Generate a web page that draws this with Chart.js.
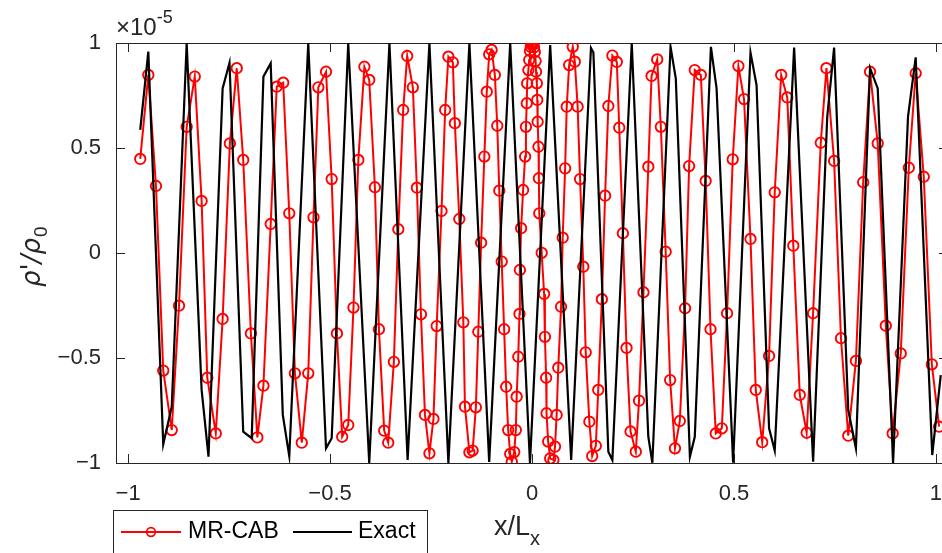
<!DOCTYPE html>
<html>
<head>
<meta charset="utf-8">
<script src="https://cdn.jsdelivr.net/npm/chart.js@4.4.0/dist/chart.umd.min.js"></script>
<style>
  html, body { margin: 0; padding: 0; overflow: hidden; background: #fff; }
  #wrap { width: 942px; height: 553px; overflow: hidden; position: relative; }
  #c { position: absolute; left: 0; top: 0; width: 960px; height: 553px; }
</style>
</head>
<body>
<div id="wrap"><canvas id="c" width="960" height="553"></canvas></div>
<script>
// --- data (y in units of 1e-5) ---
const redX = [
  -0.970,-0.950,-0.931,-0.913,-0.892,-0.874,-0.855,-0.835,-0.818,-0.804,
  -0.783,-0.766,-0.748,-0.731,-0.715,-0.696,-0.680,-0.665,-0.647,-0.632,
  -0.616,-0.601,-0.587,-0.570,-0.554,-0.541,-0.529,-0.510,-0.496,-0.483,
  -0.470,-0.455,-0.442,-0.430,-0.415,-0.403,-0.389,-0.379,-0.366,-0.356,
  -0.342,-0.331,-0.319,-0.309,-0.295,-0.285,-0.275,-0.265,-0.254,-0.244,
  -0.236,-0.224,-0.215,-0.207,-0.196,-0.191,-0.180,-0.170,-0.166,-0.155,
  -0.147,-0.139,-0.133,-0.126,-0.118,-0.112,-0.106,-0.100,-0.092,-0.086,
  -0.081,-0.075,-0.069,-0.064,-0.059,-0.054,-0.050,-0.044,-0.040,-0.038,
  -0.034,-0.031,-0.030,-0.027,-0.022,-0.017,-0.015,-0.013,-0.012,-0.009,
  -0.007,-0.005,-0.003,-0.001,0.001,0.003,0.005,0.007,0.009,0.010,
  0.012,0.013,0.014,0.016,0.017,0.018,0.024,0.030,0.032,0.035,
  0.036,0.040,0.045,0.053,0.057,0.061,0.065,0.072,0.076,0.082,
  0.086,0.092,0.101,0.106,0.113,0.119,0.127,0.133,0.142,0.149,
  0.158,0.164,0.173,0.181,0.189,0.199,0.210,0.216,0.225,0.234,
  0.244,0.257,0.265,0.276,0.288,0.296,0.310,0.319,0.331,0.342,
  0.354,0.366,0.379,0.389,0.403,0.418,0.430,0.442,0.455,0.470,
  0.483,0.497,0.511,0.525,0.541,0.554,0.570,0.587,0.601,0.617,
  0.632,0.647,0.663,0.680,0.696,0.715,0.729,0.748,0.765,0.783,
  0.802,0.820,0.837,0.856,0.876,0.893,0.913,0.933,0.950,0.970,
  0.990,1.008
];
const redY = [
  0.448,0.848,0.319,-0.560,-0.843,-0.251,0.601,0.840,0.248,-0.594,
  -0.859,-0.314,0.522,0.880,0.443,-0.383,-0.878,-0.632,0.138,0.792,
  0.811,0.189,-0.573,-0.903,-0.573,0.170,0.789,0.863,0.352,-0.383,
  -0.875,-0.819,-0.260,0.443,0.887,0.824,0.313,-0.363,-0.846,-0.903,
  -0.518,0.113,0.681,0.938,0.789,0.311,-0.292,-0.771,-0.954,-0.790,
  -0.348,0.200,0.681,0.935,0.908,0.618,0.162,-0.330,-0.732,-0.949,
  -0.941,-0.735,-0.375,0.049,0.459,0.768,0.946,0.967,0.848,0.606,
  0.297,-0.041,-0.363,-0.637,-0.843,-0.957,-0.994,-0.948,-0.843,-0.684,
  -0.494,-0.290,-0.081,0.118,0.300,0.459,0.601,0.713,0.808,0.871,
  0.919,0.962,0.981,0.993,0.998,0.993,0.979,0.957,0.914,0.863,
  0.808,0.729,0.625,0.506,0.356,0.189,0.001,-0.195,-0.399,-0.594,
  -0.763,-0.898,-0.978,-0.986,-0.922,-0.771,-0.546,-0.256,0.073,0.403,
  0.697,0.895,0.982,0.911,0.697,0.352,-0.065,-0.473,-0.803,-0.967,
  -0.918,-0.652,-0.220,0.273,0.700,0.940,0.910,0.597,0.094,-0.452,
  -0.850,-0.946,-0.703,-0.187,0.411,0.843,0.922,0.601,0.006,-0.605,
  -0.930,-0.800,-0.263,0.414,0.871,0.848,0.343,-0.363,-0.859,-0.835,
  -0.287,0.446,0.890,0.733,0.067,-0.652,-0.901,-0.490,0.289,0.848,
  0.741,0.035,-0.676,-0.856,-0.287,0.525,0.880,0.438,-0.406,-0.870,
  -0.514,0.337,0.863,0.522,-0.346,-0.859,-0.478,0.406,0.856,0.363,
  -0.530,-0.827
];
const exactX = [
  -0.970,-0.950,-0.913,-0.892,-0.855,-0.818,-0.801,-0.766,-0.749,-0.715,
  -0.694,-0.665,-0.647,-0.617,-0.601,-0.554,-0.510,-0.496,-0.455,-0.403,
  -0.353,-0.308,-0.254,-0.207,-0.155,-0.106,-0.054,-0.005,0.045,0.097,
  0.146,0.152,0.189,0.199,0.247,0.288,0.298,0.343,0.356,0.391,
  0.403,0.443,0.457,0.498,0.541,0.556,0.587,0.601,0.649,0.696,
  0.731,0.748,0.783,0.802,0.837,0.856,0.894,0.931,0.950,0.991,
  1.012
];
const exactY = [
  0.586,0.959,-0.911,-0.732,0.999,-0.652,-0.970,0.784,0.906,-0.851,
  -0.882,0.840,0.903,-0.771,-0.967,0.999,-0.930,-0.882,0.999,-1.000,
  0.999,-0.986,0.999,-1.000,0.999,-0.995,0.999,-1.000,0.990,-0.986,
  0.976,0.955,-0.946,-0.986,0.999,-0.875,-0.999,0.982,0.832,-0.970,
  -0.875,0.982,0.784,-0.999,0.954,0.800,-0.835,-0.941,0.978,-0.994,
  0.649,0.978,-0.748,-0.930,0.880,0.784,-1.000,0.649,0.932,-0.962,
  -0.581
];
const xTicks = [-1, -0.5, 0, 0.5, 1];
const yTicks = [-1, -0.5, 0, 0.5, 1];
const seriesNames = ['MR-CAB', 'Exact'];

const FONT = '"Liberation Sans", Arial, Helvetica, sans-serif';
const AXIS = '#262626';

// box, inward ticks, axis titles, exponent and legend (MATLAB look)
const matlabFrame = {
  id: 'matlabFrame',
  beforeDatasetsDraw(chart) {
    const { ctx, chartArea: a, scales: { x, y } } = chart;
    ctx.save();
    ctx.strokeStyle = AXIS;
    ctx.lineWidth = 1;
    ctx.strokeRect(Math.round(a.left) + 0.5, Math.round(a.top) + 0.5,
                   Math.round(a.right - a.left), Math.round(a.bottom - a.top));
    ctx.beginPath();
    xTicks.forEach(v => {
      const px = Math.round(x.getPixelForValue(v)) + 0.5;
      ctx.moveTo(px, a.bottom); ctx.lineTo(px, a.bottom - 9);
      ctx.moveTo(px, a.top); ctx.lineTo(px, a.top + 9);
    });
    yTicks.forEach(v => {
      const py = Math.round(y.getPixelForValue(v)) + 0.5;
      ctx.moveTo(a.left, py); ctx.lineTo(a.left + 9, py);
      ctx.moveTo(a.right, py); ctx.lineTo(a.right - 9, py);
    });
    ctx.stroke();
    ctx.restore();
  },
  afterDraw(chart) {
    const { ctx } = chart;
    ctx.save();
    ctx.fillStyle = AXIS;
    ctx.textBaseline = 'alphabetic';
    ctx.textAlign = 'left';

    // x10^-5
    ctx.font = `24px ${FONT}`;
    ctx.fillText('\u00d710', 116, 35);
    let w = ctx.measureText('\u00d710').width;
    ctx.font = `18px ${FONT}`;
    ctx.fillText('-5', 116 + w, 23);

    // x label
    ctx.font = `27px ${FONT}`;
    ctx.fillText('x/L', 494, 535);
    w = ctx.measureText('x/L').width;
    ctx.font = `20px ${FONT}`;
    ctx.fillText('x', 494 + w, 545);

    // y label
    ctx.save();
    ctx.translate(40, 287);
    ctx.rotate(-Math.PI / 2);
    ctx.font = `italic 26px "DejaVu Sans", ${FONT}`;
    ctx.fillText("\u03c1'/\u03c1", 0, 0);
    w = ctx.measureText("\u03c1'/\u03c1").width;
    ctx.font = `19px ${FONT}`;
    ctx.fillText('0', w + 1, 7);
    ctx.restore();

    // legend
    ctx.fillStyle = '#fff';
    ctx.fillRect(113.5, 510.5, 314, 60);
    ctx.strokeStyle = AXIS;
    ctx.lineWidth = 1;
    ctx.strokeRect(113.5, 510.5, 314, 60);
    const ly = 532;
    ctx.lineWidth = 2;
    ctx.strokeStyle = '#ff0000';
    ctx.beginPath(); ctx.moveTo(121, ly); ctx.lineTo(181, ly); ctx.stroke();
    ctx.lineWidth = 1.7;
    ctx.beginPath(); ctx.arc(151, ly, 4.3, 0, Math.PI * 2); ctx.stroke();
    ctx.strokeStyle = '#000';
    ctx.lineWidth = 2;
    ctx.beginPath(); ctx.moveTo(293, ly); ctx.lineTo(352, ly); ctx.stroke();
    ctx.fillStyle = '#000';
    ctx.font = `23px ${FONT}`;
    ctx.textBaseline = 'middle';
    ctx.fillText(seriesNames[0], 188, ly);
    ctx.fillText(seriesNames[1], 358, ly);
    ctx.restore();
  }
};

const toPts = (xs, ys) => xs.map((v, i) => ({ x: v, y: ys[i] }));
// MATLAB prints negatives with a true minus sign
const tickText = v => (v < 0 ? '\u2212' + Math.abs(v) : String(v));

new Chart(document.getElementById('c'), {
  type: 'scatter',
  data: {
    datasets: [
      {
        label: seriesNames[0],
        data: toPts(redX, redY),
        showLine: true,
        borderColor: '#ff0000',
        borderWidth: 2,
        backgroundColor: 'rgba(0,0,0,0)',
        pointRadius: 5.2,
        pointBorderWidth: 1.9,
        pointBorderColor: '#ff0000',
        pointBackgroundColor: 'rgba(0,0,0,0)',
        tension: 0,
        order: 2
      },
      {
        label: seriesNames[1],
        data: toPts(exactX, exactY),
        showLine: true,
        borderColor: '#000000',
        borderWidth: 2.2,
        pointRadius: 0,
        tension: 0,
        order: 1
      }
    ]
  },
  options: {
    responsive: false,
    animation: false,
    devicePixelRatio: 1,
    events: [],
    layout: { padding: { left: 0, right: 12, top: 43, bottom: 0 } },
    plugins: { legend: { display: false }, tooltip: { enabled: false } },
    scales: {
      x: {
        type: 'linear',
        min: -1.03,
        max: 1.03,
        afterBuildTicks: s => { s.ticks = xTicks.map(v => ({ value: v })); },
        afterFit: s => { s.height = 90; s.paddingLeft = 0; s.paddingRight = 0; },
        grid: { display: false, drawTicks: false },
        border: { display: false },
        ticks: {
          color: AXIS, padding: 18, maxRotation: 0, autoSkip: false,
          font: { family: FONT, size: 22 },
          callback: tickText
        }
      },
      y: {
        type: 'linear',
        min: -1,
        max: 1,
        afterBuildTicks: s => { s.ticks = yTicks.map(v => ({ value: v })); },
        afterFit: s => { s.width = 116; s.paddingTop = 0; s.paddingBottom = 0; },
        grid: { display: false, drawTicks: false },
        border: { display: false },
        ticks: {
          color: AXIS, padding: 15, autoSkip: false,
          font: { family: FONT, size: 22 },
          callback: tickText
        }
      }
    }
  },
  plugins: [matlabFrame]
});
</script>
</body>
</html>
